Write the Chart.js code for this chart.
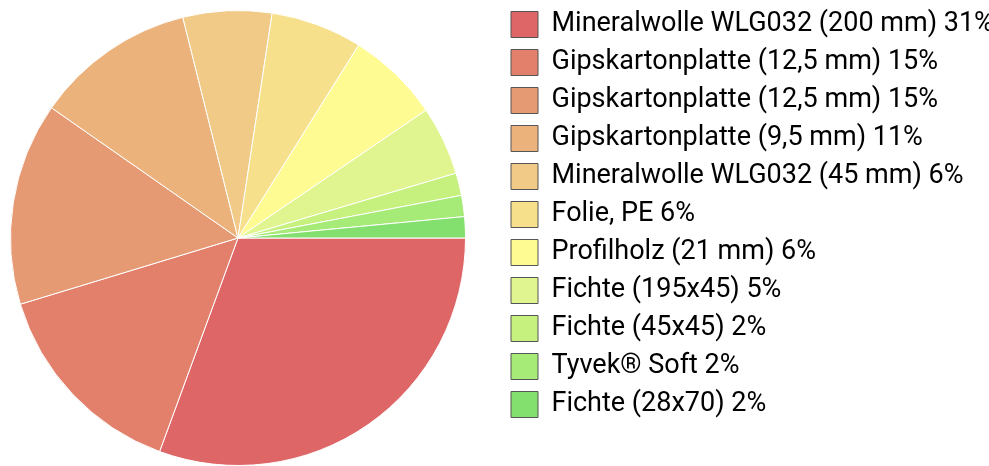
<!DOCTYPE html>
<html>
<head>
<meta charset="utf-8">
<script src="https://cdn.jsdelivr.net/npm/chart.js@4"></script>
<style>
  html, body { margin: 0; padding: 0; background: #fff; }
  #wrap { width: 989px; height: 466px; position: relative; }
</style>
</head>
<body>
<div id="wrap"><canvas id="pieChart"></canvas></div>
<script>
const materials = [
  "Mineralwolle WLG032 (200 mm) 31%",
  "Gipskartonplatte (12,5 mm) 15%",
  "Gipskartonplatte (12,5 mm) 15%",
  "Gipskartonplatte (9,5 mm) 11%",
  "Mineralwolle WLG032 (45 mm) 6%",
  "Folie, PE 6%",
  "Profilholz (21 mm) 6%",
  "Fichte (195x45) 5%",
  "Fichte (45x45) 2%",
  "Tyvek® Soft 2%",
  "Fichte (28x70) 2%",
];
const shares = [30.6, 14.7, 14.4, 11.4, 6.3, 6.5, 6.6, 4.9, 1.6, 1.5, 1.5];
const sliceColors = [
  "#df6666", "#e2806c", "#e69a74", "#ecb27c", "#f0ca86",
  "#f6e08c", "#fefb93", "#e0f58f", "#c6f17f", "#a6ea78", "#84e06e",
];

// move the legend block to where the reference has it
const legendShift = {
  id: "legendShift",
  afterLayout(chart) {
    const lg = chart.legend;
    lg.left = 500;
    lg.right = chart.width;
    lg.width = lg.right - lg.left;
    lg.top = 0;
  },
};

const ctx = document.getElementById("pieChart").getContext("2d");
new Chart(ctx, {
  type: "pie",
  data: {
    labels: materials,
    datasets: [
      {
        data: shares,
        backgroundColor: sliceColors,
        borderColor: "#ffffff",
        borderWidth: 1,
      },
    ],
  },
  plugins: [legendShift],
  options: {
    responsive: true,
    maintainAspectRatio: false,
    animation: false,
    rotation: 90,
    layout: { padding: { top: 10, right: 33 } },
    plugins: {
      tooltip: { enabled: false },
      legend: {
        position: "right",
        align: "start",
        maxWidth: 480,
        labels: {
          boxWidth: 27,
          boxHeight: 26,
          padding: 11,
          color: "#111",
          font: { family: "Roboto", size: 27 },
          generateLabels: (chart) => {
            const ds = chart.data.datasets[0];
            return chart.data.labels.map((l, i) => ({
              text: l,
              fillStyle: ds.backgroundColor[i],
              strokeStyle: "#555",
              lineWidth: 1,
              index: i,
              hidden: false,
            }));
          },
        },
      },
    },
  },
});
</script>
</body>
</html>
